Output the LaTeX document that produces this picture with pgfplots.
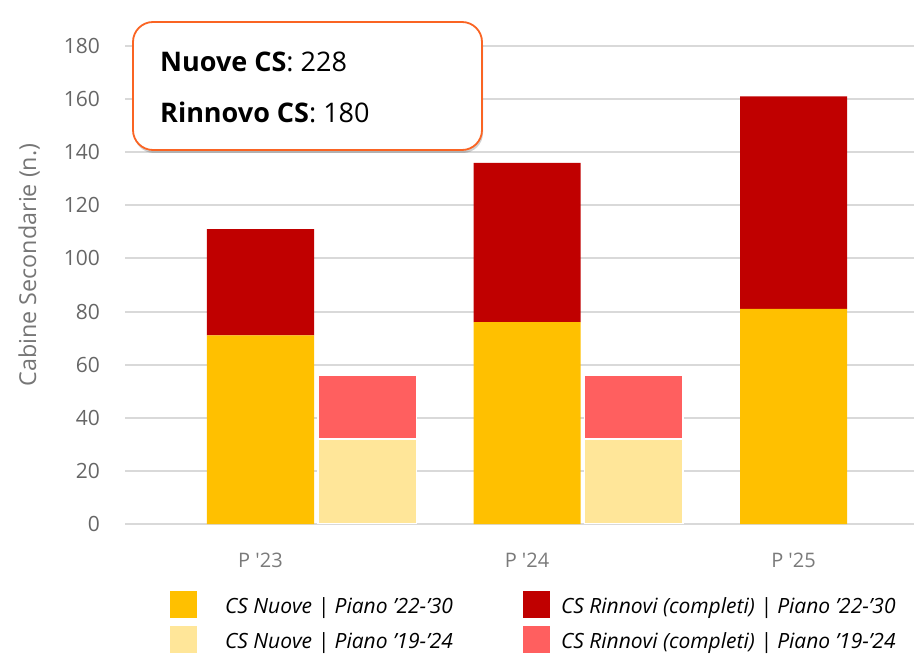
\documentclass[border=0pt]{standalone}
\usepackage{fontspec}
\setmainfont{Open Sans}
\usepackage{pgfplots}
\pgfplotsset{compat=1.18}
\usetikzlibrary{shadows}
\definecolor{cNuoveA}{HTML}{FFC000}
\definecolor{cRinnA}{HTML}{C00000}
\definecolor{cNuoveB}{HTML}{FFE699}
\definecolor{cRinnB}{HTML}{FF5F5F}
\definecolor{gridgray}{HTML}{D9D9D9}
\definecolor{tickgray}{HTML}{666666}
\definecolor{xtickgray}{HTML}{7A7A7A}
\definecolor{labgray}{HTML}{767676}
\definecolor{boxorange}{HTML}{FA6423}
\begin{document}
\begin{tikzpicture}[x=1pt,y=1pt]
\path[use as bounding box] (0,0) rectangle (914,657);
\begin{axis}[
  at={(125pt,133pt)}, anchor=south west,
  scale only axis, width=789pt, height=478pt,
  xmin=-0.5084, xmax=2.452, ymin=0, ymax=180,
  ytick={0,20,...,180},
  xtick={0,1,2}, xticklabels={P \textquotesingle23,P \textquotesingle24,P \textquotesingle25},
  /pgf/number format/assume math mode=true,
  ymajorgrids, major grid style={draw=gridgray, line width=2pt},
  axis line style={draw=none}, tick style={draw=none},
  yticklabel style={anchor=east, inner sep=0pt, xshift=-25pt, text=tickgray, font=\fontsize{21}{25}\selectfont},
  xticklabel style={anchor=base, inner sep=0pt, yshift=-43pt, text=xtickgray, font=\fontsize{20}{24}\selectfont},
  ybar stacked, bar width=0.4015,
  legend columns=2,
  legend cell align=left,
  legend style={at={(axis description cs:0.05703,-0.1402)}, anchor=north west,
    draw=none, fill=none, inner sep=0pt, outer sep=0pt,
    row sep=8pt, column sep=0pt,
    font=\itshape\fontsize{21}{25}\selectfont,
    cells={anchor=base west, inner sep=0pt}},
  legend image code/.code={\fill[#1] (0pt,-4.3pt) rectangle (27pt,22.7pt);},
]
\addlegendimage{fill=cNuoveA, draw=none}
\addlegendentry{\makebox[322pt][l]{\hspace*{26pt}CS Nuove | Piano ’22-’30}}
\addlegendimage{fill=cRinnA, draw=none}
\addlegendentry{\hspace*{9pt}CS Rinnovi (completi) | Piano ’22-’30}
\addlegendimage{fill=cNuoveB, draw=none}
\addlegendentry{\makebox[322pt][l]{\hspace*{26pt}CS Nuove | Piano ’19-’24}}
\addlegendimage{fill=cRinnB, draw=none}
\addlegendentry{\hspace*{9pt}CS Rinnovi (completi) | Piano ’19-’24}
\addplot[fill=cNuoveA, draw=none, forget plot] coordinates {(0,71) (1,76) (2,81)};
\addplot[fill=cRinnA, draw=none, forget plot] coordinates {(0,40) (1,60) (2,80)};
\end{axis}
\begin{axis}[
  at={(125pt,133pt)}, anchor=south west,
  scale only axis, width=789pt, height=478pt,
  xmin=-0.5084, xmax=2.452, ymin=0, ymax=180,
  hide axis,
  ybar stacked, bar width=0.37,
]
\addplot[fill=cNuoveB, draw=white, line width=1.5pt] coordinates {(0.4,32) (1.4,32)};
\addplot[fill=cRinnB, draw=white, line width=1.5pt] coordinates {(0.4,24) (1.4,24)};
\end{axis}
\node[rotate=90, text=labgray, font=\fontsize{23.3}{27}\selectfont] at (29,392) {Cabine Secondarie (n.)};
\draw[draw=boxorange, line width=1.8pt, rounded corners=20pt, fill=white,
  drop shadow={shadow xshift=1pt, shadow yshift=-3pt, opacity=0.18, fill=black}]
  (133,507) rectangle (482,635);
\node[anchor=base west, inner sep=0pt, font=\fontsize{27}{32}\selectfont] at (160,585) {\textbf{Nuove CS}: 228};
\node[anchor=base west, inner sep=0pt, font=\fontsize{27}{32}\selectfont] at (160,534) {\textbf{Rinnovo CS}: 180};
\end{tikzpicture}
\end{document}
